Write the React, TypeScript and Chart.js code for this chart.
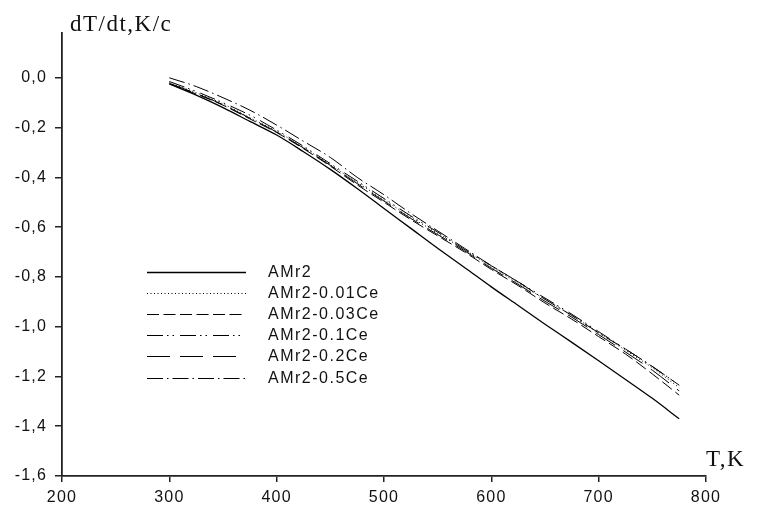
import { useEffect, useRef } from 'react';
import { Chart, registerables } from 'chart.js';

Chart.register(...registerables);

const temperatures = [300, 325, 350, 375, 400, 425, 450, 475, 500, 525, 550, 575, 600, 625, 650, 675, 700, 725, 750, 775];

const seriesLabels = ['AMr2', 'AMr2-0.01Ce', 'AMr2-0.03Ce', 'AMr2-0.1Ce', 'AMr2-0.2Ce', 'AMr2-0.5Ce'];

const amr2 = [-0.025, -0.07, -0.12, -0.175, -0.23, -0.297, -0.368, -0.445, -0.525, -0.605, -0.685, -0.762, -0.84, -0.915, -0.99, -1.063, -1.137, -1.212, -1.288, -1.37];
const amr2Ce001 = [-0.02, -0.06, -0.105, -0.16, -0.215, -0.28, -0.35, -0.42, -0.49, -0.56, -0.625, -0.69, -0.76, -0.825, -0.89, -0.955, -1.025, -1.095, -1.165, -1.245];
const amr2Ce003 = [-0.025, -0.065, -0.11, -0.165, -0.22, -0.285, -0.355, -0.43, -0.5, -0.57, -0.635, -0.7, -0.77, -0.835, -0.905, -0.97, -1.04, -1.11, -1.19, -1.275];
const amr2Ce01 = [-0.015, -0.055, -0.1, -0.15, -0.21, -0.275, -0.345, -0.415, -0.485, -0.555, -0.62, -0.69, -0.755, -0.82, -0.885, -0.95, -1.02, -1.09, -1.16, -1.235];
const amr2Ce02 = [-0.022, -0.063, -0.108, -0.162, -0.218, -0.282, -0.352, -0.425, -0.495, -0.565, -0.63, -0.695, -0.765, -0.83, -0.898, -0.962, -1.032, -1.102, -1.175, -1.258];
const amr2Ce05 = [0.0, -0.035, -0.08, -0.13, -0.19, -0.255, -0.32, -0.4, -0.47, -0.545, -0.615, -0.685, -0.755, -0.82, -0.89, -0.955, -1.025, -1.09, -1.16, -1.235];

const seriesValues = [amr2, amr2Ce001, amr2Ce003, amr2Ce01, amr2Ce02, amr2Ce05];

const xTickValues = [200, 300, 400, 500, 600, 700, 800];
const yTickValues = [-1.6, -1.4, -1.2, -1.0, -0.8, -0.6, -0.4, -0.2, 0.0];

const yAxisTitle = 'dT/dt,K/c';
const xAxisTitle = 'T,K';

export default function App() {
  const canvasRef = useRef<HTMLCanvasElement>(null);

  useEffect(() => {
    if (!canvasRef.current) return;
    const dashes: number[][] = [[], [1, 2.5], [12, 4.5], [16, 4, 1.5, 4, 1.5, 6], [23, 10], [16, 4, 1.5, 4]];
    const widths = [1.3, 1, 1, 1, 1, 1];
    const datasets = seriesValues.map((vals, i) => ({
      label: seriesLabels[i],
      data: temperatures.map((t, j) => ({ x: t, y: vals[j] })),
      borderColor: '#000',
      borderWidth: widths[i],
      borderDash: dashes[i],
      pointRadius: 0,
      tension: 0.4,
      cubicInterpolationMode: 'monotone' as const,
      fill: false,
    }));

    const decor = {
      id: 'decor',
      beforeDraw(chart: any) {
        (chart.ctx as any).letterSpacing = '1.2px';
      },
      afterDraw(chart: any) {
        const ctx = chart.ctx as CanvasRenderingContext2D;
        ctx.save();
        const rows = [272, 293, 314, 335, 356, 378];
        chart.data.datasets.forEach((ds: any, i: number) => {
          const y = rows[i];
          ctx.beginPath();
          ctx.setLineDash(ds.borderDash || []);
          ctx.lineWidth = ds.borderWidth;
          ctx.strokeStyle = ds.borderColor;
          ctx.moveTo(147, y + 0.5);
          ctx.lineTo(246, y + 0.5);
          ctx.stroke();
          ctx.setLineDash([]);
          (ctx as any).letterSpacing = '1.5px';
          ctx.font = '16px "Liberation Sans", Arial, sans-serif';
          ctx.fillStyle = '#111';
          ctx.textAlign = 'left';
          ctx.textBaseline = 'middle';
          ctx.fillText(ds.label, 268, y + 1);
        });
        (ctx as any).letterSpacing = '1.5px';
        ctx.font = '23px "Liberation Serif", "Times New Roman", serif';
        ctx.fillStyle = '#111';
        ctx.textAlign = 'left';
        ctx.textBaseline = 'middle';
        ctx.fillText(yAxisTitle, 70, 25);
        ctx.fillText(xAxisTitle, 706, 460);
        ctx.restore();
      },
    };

    const chart = new Chart(canvasRef.current, {
      type: 'line',
      data: { datasets },
      options: {
        responsive: false,
        animation: false,
        layout: { padding: { top: 33, right: 54, left: 0, bottom: 0 } },
        plugins: { legend: { display: false }, tooltip: { enabled: false } },
        scales: {
          x: {
            type: 'linear',
            min: 200,
            max: 800,
            afterBuildTicks: (s: any) => {
              s.ticks = xTickValues.map((v) => ({ value: v }));
            },
            afterFit: (s: any) => {
              s.height = 34;
            },
            grid: { display: true, drawOnChartArea: false, drawTicks: true, tickLength: 6, color: '#222', lineWidth: 1.5 },
            border: { display: true, color: '#222', width: 1.8 },
            ticks: {
              font: { family: '"Liberation Sans", Arial, sans-serif', size: 16 },
              color: '#111',
              padding: 6,
              maxRotation: 0,
              callback: (v: any) => String(v),
            },
          },
          y: {
            type: 'linear',
            min: -1.6,
            max: 0.18,
            afterBuildTicks: (s: any) => {
              s.ticks = yTickValues.map((v) => ({ value: v }));
            },
            afterFit: (s: any) => {
              s.width = 62;
            },
            grid: { display: true, drawOnChartArea: false, drawTicks: true, tickLength: 7, color: '#222', lineWidth: 1.5 },
            border: { display: true, color: '#222', width: 1.8 },
            ticks: {
              font: { family: '"Liberation Sans", Arial, sans-serif', size: 16 },
              color: '#111',
              padding: 8,
              callback: (v: any) => Number(v).toFixed(1).replace('.', ','),
            },
          },
        },
      },
      plugins: [decor],
    });
    return () => chart.destroy();
  }, []);

  return (
    <div style={{ position: 'absolute', left: 0, top: 0, width: 760, height: 510, background: '#fff' }}>
      <canvas ref={canvasRef} width={760} height={510} style={{ display: 'block' }} />
    </div>
  );
}
